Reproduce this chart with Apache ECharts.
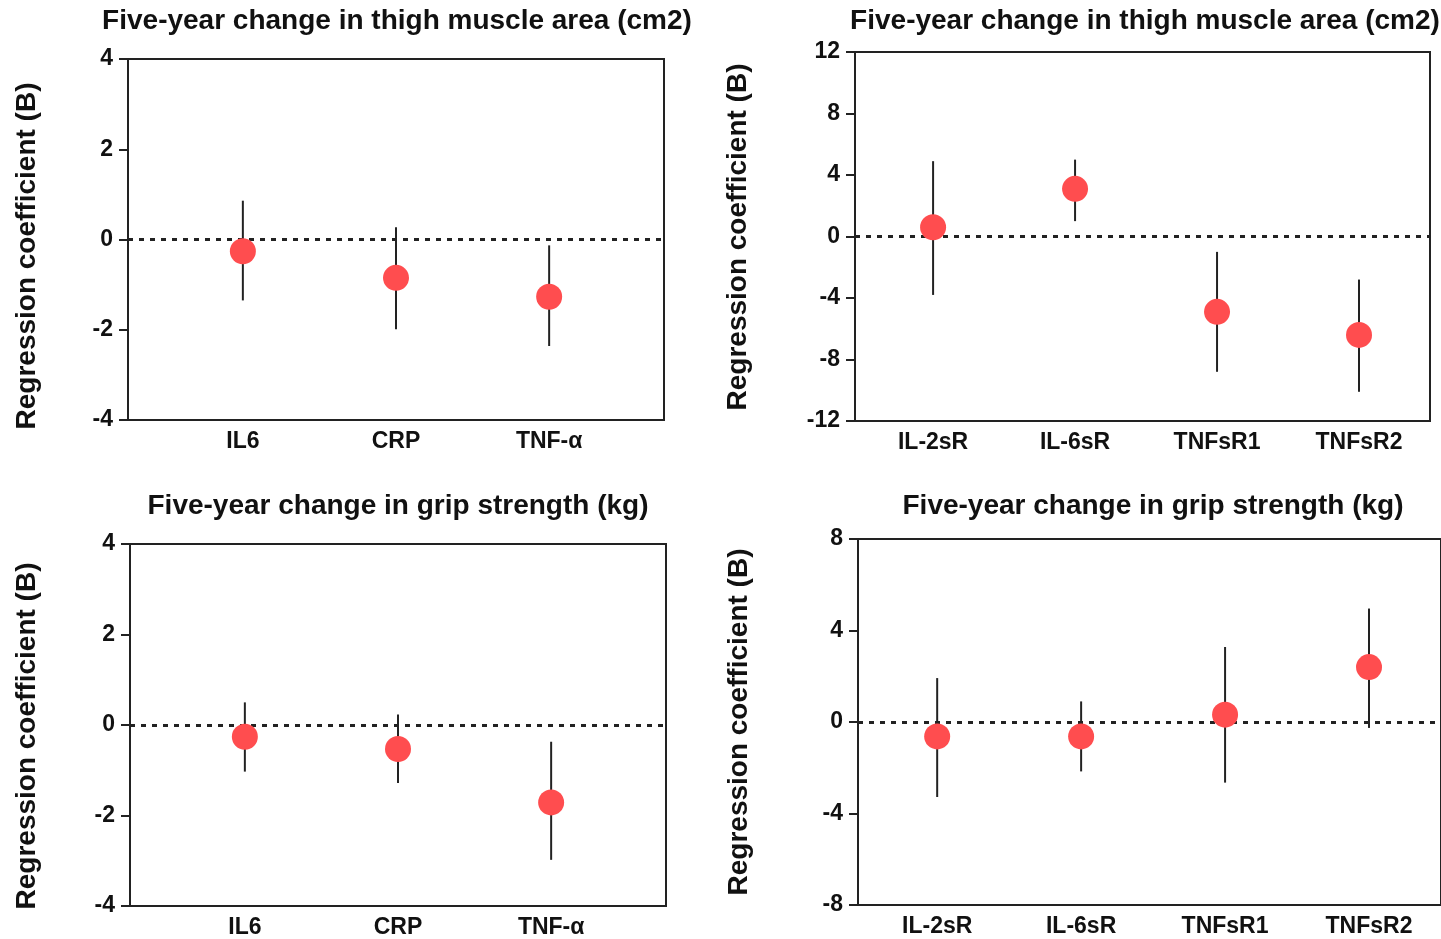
<!DOCTYPE html>
<html>
<head>
<meta charset="utf-8">
<script src="https://cdn.jsdelivr.net/npm/echarts@6/dist/echarts.min.js"></script>
<style>
html,body{margin:0;padding:0;background:#fff;}
#chart{width:1441px;height:939px;}
</style>
</head>
<body>
<div id="chart"></div>
<script>
// ---------- data ----------
const titleThigh = 'Five-year change in thigh muscle area (cm2)';
const titleGrip = 'Five-year change in grip strength (kg)';
const yName = 'Regression coefficient (B)';

const catsA = ['IL6', 'CRP', 'TNF-α'];
const catsB = ['IL-2sR', 'IL-6sR', 'TNFsR1', 'TNFsR2'];

// top-left: thigh muscle, classic markers
const thighA_est = [-0.26, -0.85, -1.27];
const thighA_lo  = [-1.35, -1.99, -2.36];
const thighA_hi  = [0.86, 0.27, -0.13];

// top-right: thigh muscle, soluble receptors
const thighB_est = [0.6, 3.1, -4.9, -6.4];
const thighB_lo  = [-3.8, 1.0, -8.8, -10.1];
const thighB_hi  = [4.9, 5.0, -1.0, -2.8];

// bottom-left: grip strength, classic markers
const gripA_est = [-0.26, -0.53, -1.71];
const gripA_lo  = [-1.03, -1.28, -2.98];
const gripA_hi  = [0.5, 0.23, -0.37];

// bottom-right: grip strength, soluble receptors
const gripB_est = [-0.63, -0.63, 0.32, 2.4];
const gripB_lo  = [-3.28, -2.16, -2.65, -0.26];
const gripB_hi  = [1.92, 0.9, 3.28, 4.96];

const yTicksA = {min: -4, max: 4, interval: 2};
const yTicksThighB = {min: -12, max: 12, interval: 4};
const yTicksGripB = {min: -8, max: 8, interval: 4};

// ---------- build ----------
const FONT = 'Liberation Sans, Arial, sans-serif';
const panels = [
  {grid: {left: 128, top: 59, width: 536, height: 361}, x: [0.25, 3.75], cats: catsA, y: yTicksA,
   est: thighA_est, lo: thighA_lo, hi: thighA_hi, title: titleThigh, tx: 397, ty: 21, nx: 27, ny: 256},
  {grid: {left: 855, top: 52, width: 575, height: 369}, x: [0.45, 4.5], cats: catsB, y: yTicksThighB,
   est: thighB_est, lo: thighB_lo, hi: thighB_hi, title: titleThigh, tx: 1145, ty: 21, nx: 738, ny: 237},
  {grid: {left: 130, top: 544, width: 536, height: 362}, x: [0.25, 3.75], cats: catsA, y: yTicksA,
   est: gripA_est, lo: gripA_lo, hi: gripA_hi, title: titleGrip, tx: 398, ty: 506, nx: 27, ny: 736},
  {grid: {left: 858, top: 539, width: 591, height: 366}, x: [0.45, 4.5], cats: catsB, y: yTicksGripB,
   est: gripB_est, lo: gripB_lo, hi: gripB_hi, title: titleGrip, tx: 1153, ty: 506, nx: 739, ny: 722}
];

const grids = [], xAxes = [], yAxes = [], series = [], graphics = [];
panels.forEach((p, i) => {
  grids.push(Object.assign({show: true, borderColor: '#222', borderWidth: 2, backgroundColor: '#fff'}, p.grid));
  const idx = p.cats.map((c, k) => k + 1);
  xAxes.push({
    type: 'value', gridIndex: i, min: p.x[0], max: p.x[1],
    splitLine: {show: false},
    axisLine: {show: true, onZero: false, lineStyle: {color: '#222', width: 2}},
    axisTick: {show: false},
    axisLabel: {
      customValues: idx, margin: 10,
      formatter: v => p.cats[Math.round(v) - 1] || '',
      color: '#111', fontFamily: FONT, fontWeight: 'bold', fontSize: 23
    }
  });
  yAxes.push({
    type: 'value', gridIndex: i, min: p.y.min, max: p.y.max, interval: p.y.interval,
    splitLine: {show: false},
    axisLine: {show: true, onZero: false, lineStyle: {color: '#222', width: 2}},
    axisTick: {show: true, inside: false, length: 9, lineStyle: {color: '#222', width: 2}},
    axisLabel: {margin: 15, color: '#111', fontFamily: FONT, fontWeight: 'bold', fontSize: 23}
  });
  series.push({
    type: 'custom', xAxisIndex: i, yAxisIndex: i, z: 3, silent: true,
    data: p.cats.map((c, k) => [k + 1, p.lo[k], p.hi[k]]),
    renderItem: (params, api) => {
      const a = api.coord([api.value(0), api.value(1)]);
      const b = api.coord([api.value(0), api.value(2)]);
      return {type: 'line', shape: {x1: a[0], y1: a[1], x2: b[0], y2: b[1]},
              style: {stroke: '#222', lineWidth: 2}};
    }
  });
  series.push({
    type: 'scatter', xAxisIndex: i, yAxisIndex: i, z: 4, silent: true,
    symbol: 'circle', symbolSize: 26,
    itemStyle: {color: '#FF4D4F', opacity: 1},
    data: p.cats.map((c, k) => [k + 1, p.est[k]]),
    markLine: {
      silent: true, symbol: 'none', z: 2, animation: false,
      label: {show: false},
      lineStyle: {color: '#222', width: 3, type: [5, 6]},
      data: [{yAxis: 0}]
    }
  });
  graphics.push({
    type: 'text', x: p.tx, y: p.ty,
    style: {text: p.title, textAlign: 'center', textVerticalAlign: 'middle',
            font: 'bold 28px ' + FONT, fill: '#111'}
  });
  graphics.push({
    type: 'text', x: p.nx, y: p.ny, rotation: Math.PI / 2,
    style: {text: yName, textAlign: 'center', textVerticalAlign: 'middle',
            font: 'bold 28px ' + FONT, fill: '#111'}
  });
});

const chart = echarts.init(document.getElementById('chart'), null, {renderer: 'canvas'});
chart.setOption({
  animation: false,
  backgroundColor: '#fff',
  grid: grids, xAxis: xAxes, yAxis: yAxes, series: series,
  graphic: graphics
});
</script>
</body>
</html>
